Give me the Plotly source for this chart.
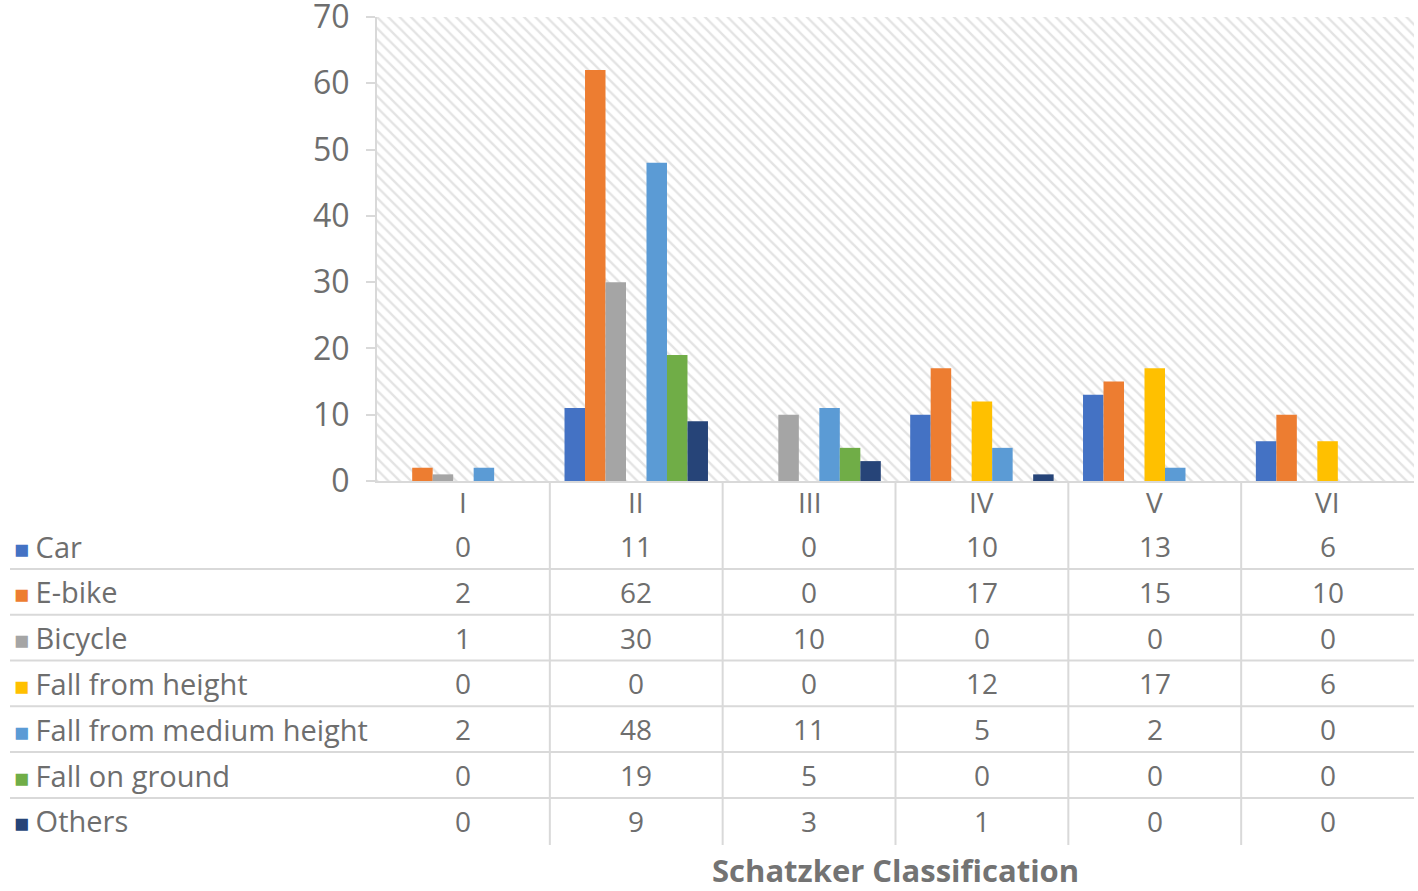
import plotly.graph_objects as go

categories = ["I", "II", "III", "IV", "V", "VI"]
series_names = ["Car", "E-bike", "Bicycle", "Fall from height",
                "Fall from medium height", "Fall on ground", "Others"]
car = [0, 11, 0, 10, 13, 6]
ebike = [2, 62, 0, 17, 15, 10]
bicycle = [1, 30, 10, 0, 0, 0]
fall_height = [0, 0, 0, 12, 17, 6]
fall_medium = [2, 48, 11, 5, 2, 0]
fall_ground = [0, 19, 5, 0, 0, 0]
others = [0, 9, 3, 1, 0, 0]
y_ticks = [0, 10, 20, 30, 40, 50, 60, 70]

series_values = [car, ebike, bicycle, fall_height, fall_medium, fall_ground, others]
colors = ["#4472C4", "#ED7D31", "#A5A5A5", "#FFC000", "#5B9BD5", "#70AD47", "#264478"]

W, H = 1418, 891
# plot area in page pixels: x 377..1414, y 17..481
PL, PR, PT, PB = 377, 1414, 17, 481
L, T = PL, PT
R = W - PR
B = H - PB
plot_w = PR - PL
plot_h = PB - PT

def py(page_y):
    return (PB - page_y) / plot_h

def px(page_x):
    return (page_x - PL) / plot_w

FONT = "Open Sans"
TXT = "#6e6e6e"
LINE = "#d9d9d9"
FS = 28

fig = go.Figure()

# hatched plot-area background (primary hidden axes)
fig.add_trace(go.Bar(
    x=[0.5], y=[1], width=[1], xaxis="x", yaxis="y",
    marker=dict(color="white", line=dict(width=0),
                pattern=dict(shape="\\", fgcolor="#c8c8c8", bgcolor="white",
                             size=8, solidity=0.3)),
    showlegend=False, hoverinfo="skip"))

for name, vals, c in zip(series_names, series_values, colors):
    fig.add_trace(go.Bar(
        x=categories, y=vals, name=name, xaxis="x2", yaxis="y2",
        marker=dict(color=c, line=dict(width=0)),
        showlegend=False))

fig.update_layout(
    width=W, height=H,
    margin=dict(l=L, r=R, t=T, b=B, autoexpand=False),
    paper_bgcolor="white", plot_bgcolor="white",
    barmode="group", bargap=0.17, bargroupgap=0,
    font=dict(family=FONT, color=TXT, size=FS),
    showlegend=False,
    xaxis=dict(range=[0, 1], visible=False, fixedrange=True, automargin=False),
    yaxis=dict(range=[0, 1], visible=False, fixedrange=True, automargin=False),
    xaxis2=dict(overlaying="x", type="category", categoryorder="array",
                categoryarray=categories, showgrid=False, zeroline=False,
                showline=True, linecolor=LINE, linewidth=2,
                ticks="", showticklabels=False,
                anchor="y2", automargin=False),
    yaxis2=dict(overlaying="y", range=[0, 70], tickvals=y_ticks,
                showgrid=False, zeroline=False, showline=True,
                linecolor=LINE, linewidth=2, ticks="outside", ticklen=9,
                tickcolor=LINE, tickwidth=2, ticklabelstandoff=10,
                ticklabeloverflow="allow",
                tickfont=dict(size=32, color=TXT, family=FONT),
                anchor="x2", automargin=False),
)

# header row of the data table (category labels)
for cat in categories:
    fig.add_annotation(
        x=cat, y=py(502), xref="x2", yref="paper",
        xanchor="center", yanchor="middle", showarrow=False,
        text=cat, font=dict(size=FS, color=TXT, family=FONT))

# data table rows
row_pitch = 45.8
first_row_y = 546
for i, (name, vals, c) in enumerate(zip(series_names, series_values, colors)):
    yc = first_row_y + i * row_pitch
    fig.add_annotation(
        x=px(12), y=py(yc), xref="paper", yref="paper",
        xanchor="left", yanchor="middle", showarrow=False,
        text=f"<span style='color:{c};font-size:25px'>■ </span>{name}",
        font=dict(size=29, color=TXT, family=FONT))
    for cat, v in zip(categories, vals):
        fig.add_annotation(
            x=cat, y=py(yc), xref="x2", yref="paper",
            xanchor="center", yanchor="middle", showarrow=False,
            text=str(v), font=dict(size=FS, color=TXT, family=FONT))
    if i < len(series_names) - 1:
        ysep = yc + row_pitch / 2
        fig.add_shape(type="line", xref="paper", yref="paper",
                      x0=px(10), x1=1, y0=py(ysep), y1=py(ysep),
                      line=dict(color=LINE, width=2))

# vertical separators between categories
for k in range(1, len(categories)):
    fig.add_shape(type="line", xref="paper", yref="paper",
                  x0=k / len(categories), x1=k / len(categories),
                  y0=0, y1=py(845), line=dict(color=LINE, width=2))

# axis title
fig.add_annotation(
    x=0.5, y=py(893), xref="paper", yref="paper",
    xanchor="center", yanchor="bottom", showarrow=False,
    text="<b>Schatzker Classification</b>",
    font=dict(size=31, color="#737373", family=FONT))

fig.write_html("out.html",
               config={"displayModeBar": False},
               post_script="document.body.style.margin='0';"
                           "document.body.style.overflow='hidden';")
